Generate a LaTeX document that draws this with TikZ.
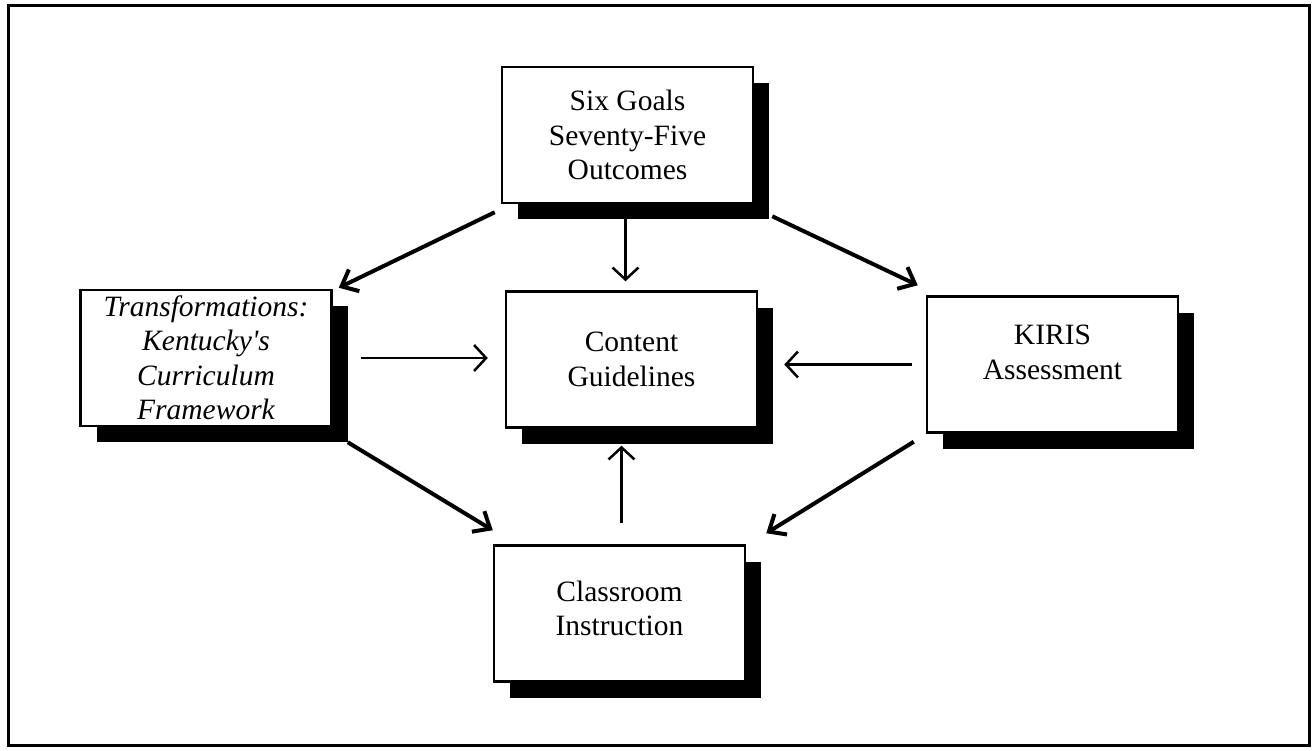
\documentclass[tikz,border=0pt]{standalone}
\usepackage{fontspec}
\setmainfont{Liberation Serif}
\usetikzlibrary{arrows.meta}
\usetikzlibrary{shadows}

\begin{document}
\begin{tikzpicture}[x=1pt,y=-1pt,
		box/.style={draw, line width=2.5pt, fill=white, minimum width=251pt, minimum height=136pt,
			inner sep=0pt, align=center, font=\fontsize{29.5}{34.5}\selectfont,
			drop shadow={shadow xshift=16pt, shadow yshift=-16pt, fill=black, opacity=1}},
		thick arrow/.style={line width=4pt, -{Straight Barb[length=14pt,width=24pt]}},
		thin arrow/.style={line width=2.5pt, -{Straight Barb[length=12pt,width=26pt]}}]
		\useasboundingbox (0,0) rectangle (1316,750);
		\draw[line width=3pt] (8,5) rectangle (1309,745);

		\node[box] (goals) at (627.5,135) {Six Goals\\Seventy-Five\\Outcomes};
		\node[box, font=\fontsize{29.5}{34.5}\selectfont\itshape] (trans) at (206,358) {Transformations:\\Kentucky\textquotesingle s\\Curriculum\\Framework};
		\node[box] (content) at (631.5,359.5) {Content\\Guidelines};
		\node[box, text depth=25pt] (kiris) at (1052.5,364.5) {KIRIS\\Assessment};
		\node[box, text depth=10pt] (class) at (619.5,613.5) {Classroom\\Instruction};

		% from the goals
		\draw[thick arrow] ([shift={(-6,8)}]goals.south west) -- ([shift={(6,-1)}]trans.north east);
		\draw[thick arrow] ([shift={(18,12)}]goals.south east) -- ([shift={(-8,-10)}]kiris.north west);
		\draw[thin arrow] ([shift={(-2,14)}]goals.south) -- ([shift={(-2,-9)}]goals.south |- content.north);

		% into the guidelines
		\draw[thin arrow] ([shift={(28,0)}]trans.east) -- ([shift={(-17,0)}]trans.east -| content.west);
		\draw[thin arrow] ([shift={(-14,0)}]kiris.west) -- ([shift={(26,0)}]kiris.west -| content.east);
		\draw[thin arrow] ([shift={(2,-21)}]class.north) -- ([shift={(2,17)}]class.north |- content.south);

		% into the classroom
		\draw[thick arrow] ([shift={(15,15)}]trans.south east) -- ([shift={(0,-14)}]class.north west);
		\draw[thick arrow] ([shift={(-12,8)}]kiris.south west) -- ([shift={(20,-11)}]class.north east);
	\end{tikzpicture}
\end{document}
